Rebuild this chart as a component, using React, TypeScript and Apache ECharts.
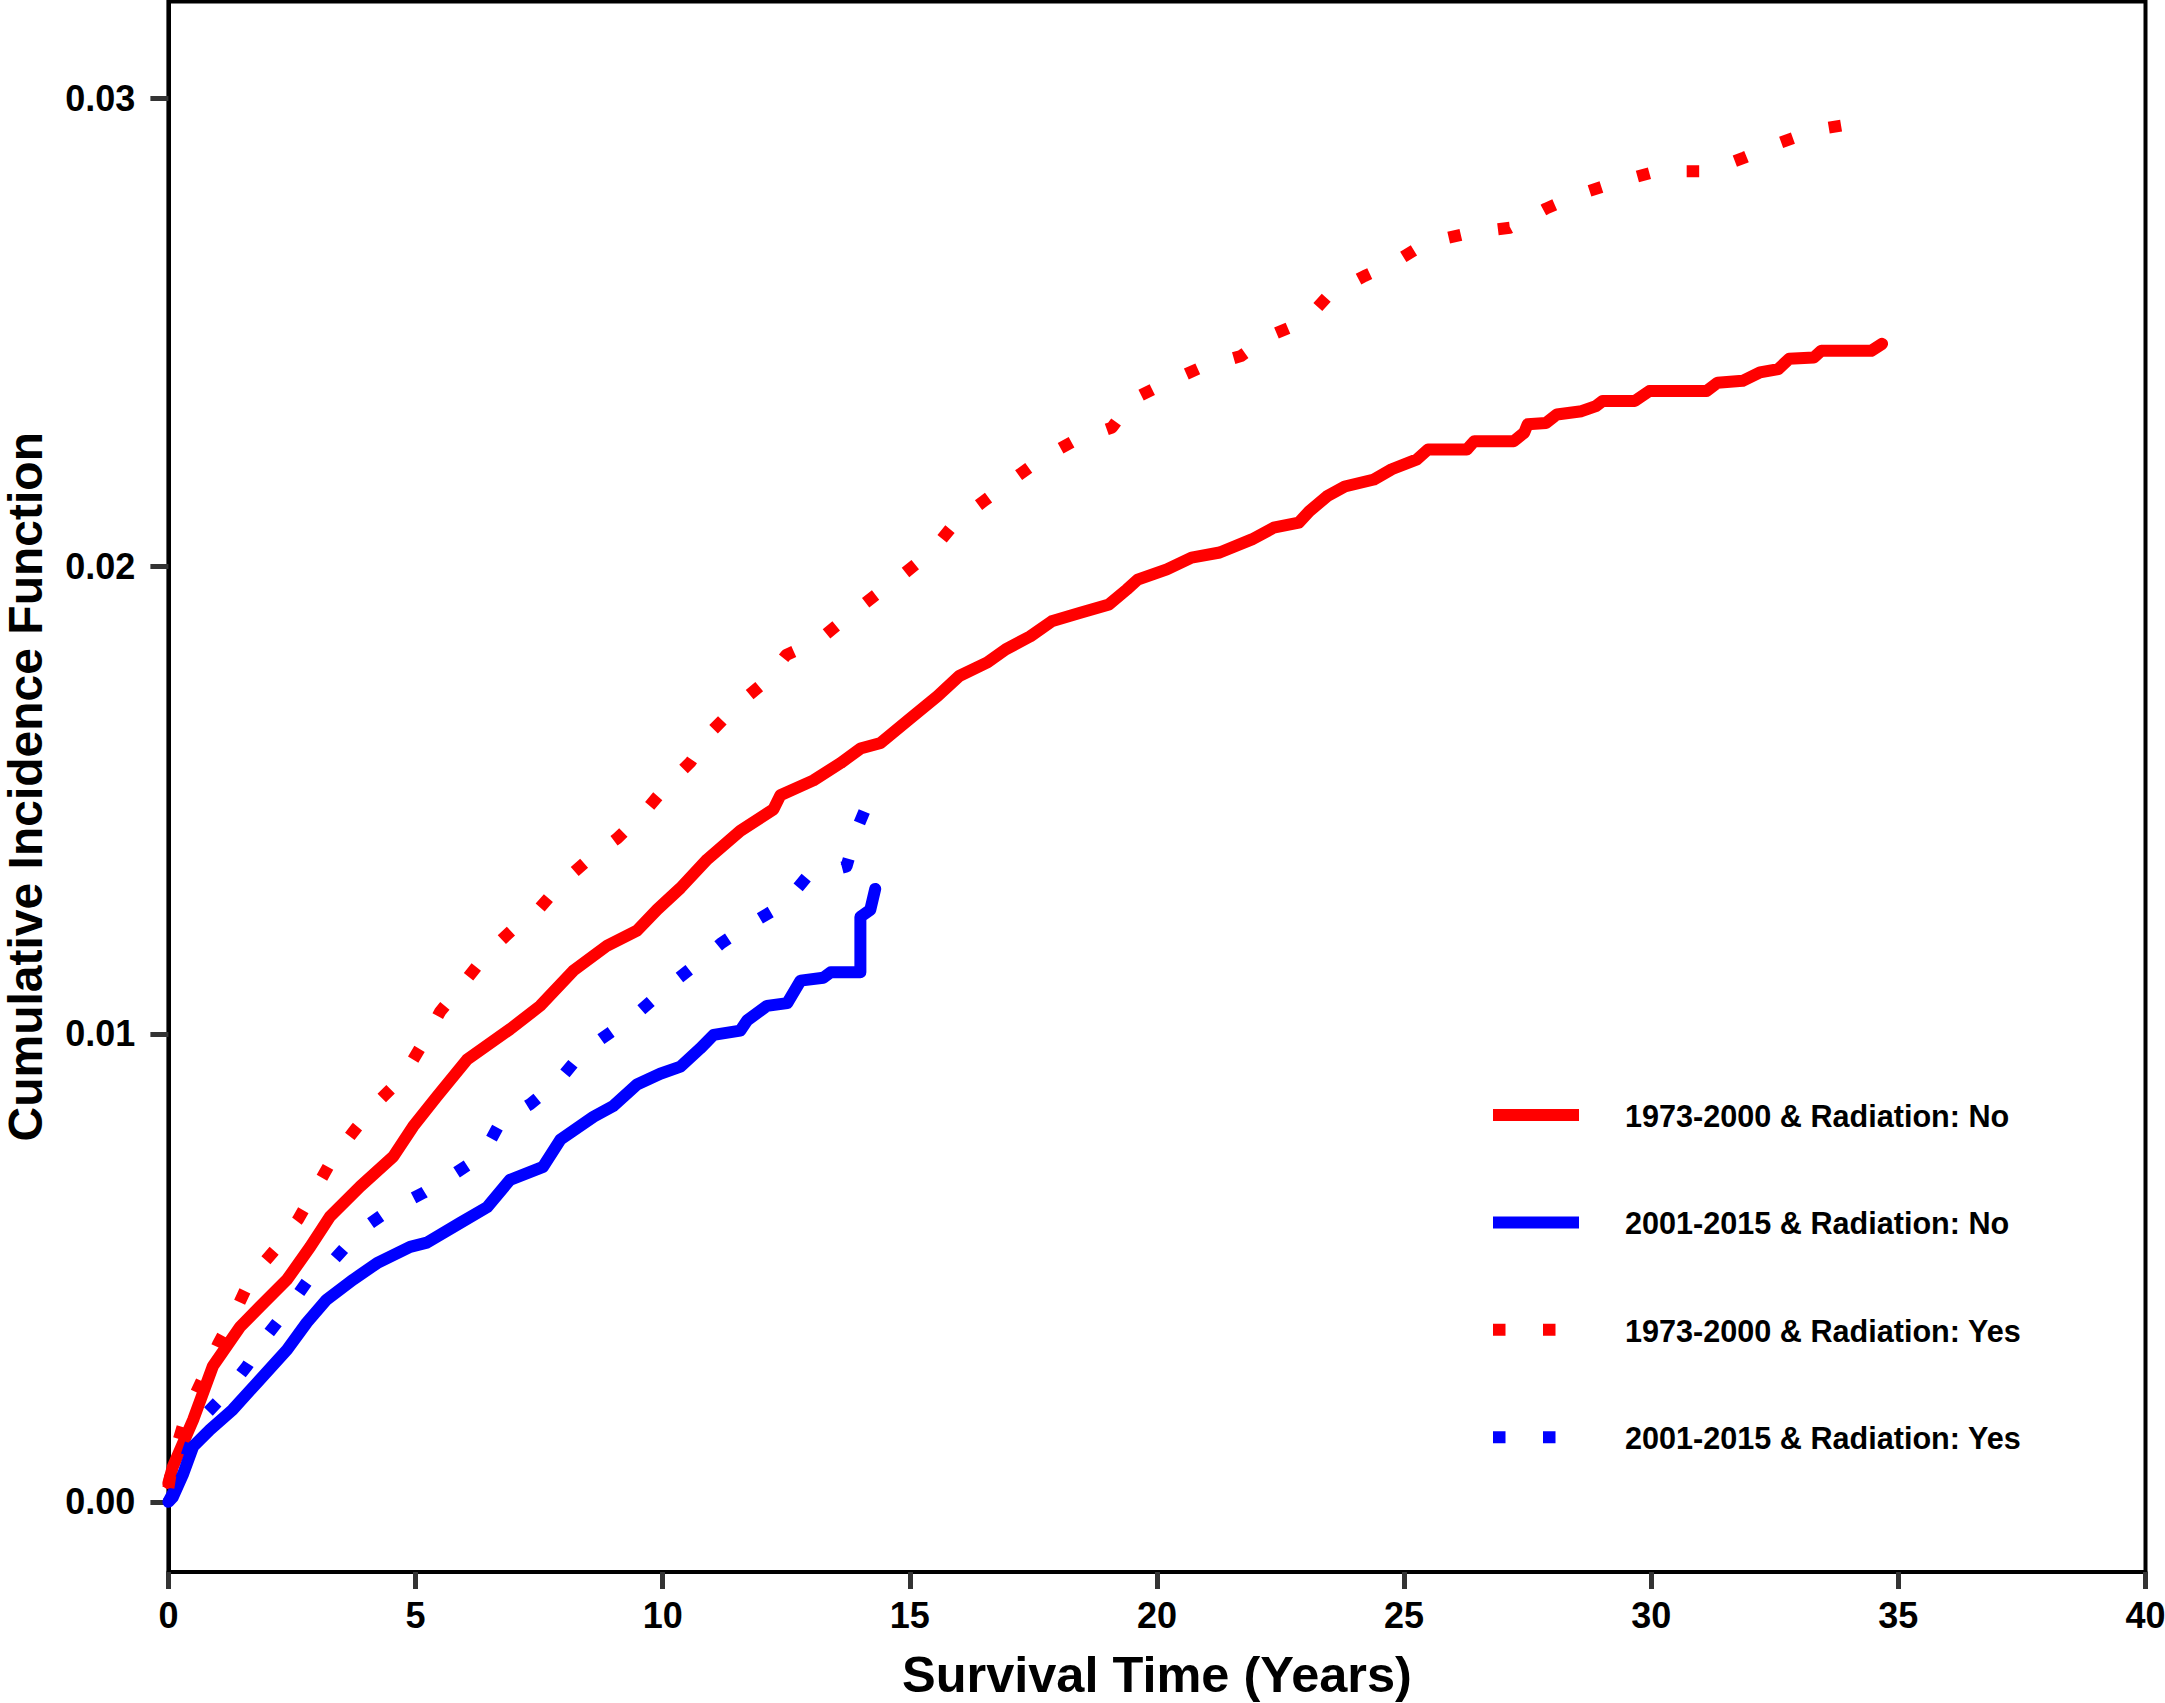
import React, { useEffect, useRef } from "react";
import * as echarts from "echarts";

// Cumulative incidence: [survival time (years), CIF]
const red7300No: [number, number][] = [
  [0, 0.0004], [0.09, 0.00075], [0.5, 0.00175], [0.9, 0.0029], [1.45, 0.00374], [1.85, 0.00417],
  [2.4, 0.00475], [2.87, 0.00545], [3.27, 0.0061], [3.88, 0.00674], [4.55, 0.00738], [4.95, 0.00802],
  [5.43, 0.00866], [6.04, 0.00945], [6.91, 0.0101], [7.52, 0.0106], [8.19, 0.01135], [8.88, 0.01189],
  [9.48, 0.01221], [9.89, 0.01266], [10.36, 0.01312], [10.9, 0.01373], [11.57, 0.01434], [12.24, 0.0148],
  [12.38, 0.0151], [13.05, 0.01542], [13.6, 0.01579], [14.0, 0.0161], [14.41, 0.01622], [14.98, 0.01672],
  [15.56, 0.01722], [16.0, 0.01765], [16.57, 0.01794], [16.94, 0.01822], [17.44, 0.0185], [17.87, 0.01882],
  [18.45, 0.019], [19.03, 0.01918], [19.39, 0.0195], [19.61, 0.01971], [20.2, 0.01993], [20.7, 0.02018],
  [21.27, 0.02029], [21.92, 0.02057], [22.36, 0.02082], [22.87, 0.02093], [23.08, 0.02117], [23.44, 0.02149],
  [23.8, 0.0217], [24.39, 0.02185], [24.75, 0.02207], [25.26, 0.02228], [25.48, 0.02249], [26.27, 0.02249],
  [26.42, 0.02267], [27.22, 0.02267], [27.43, 0.02285], [27.5, 0.02303], [27.87, 0.02306], [28.09, 0.02324],
  [28.59, 0.02331], [28.88, 0.02342], [29.02, 0.02353], [29.67, 0.02353], [29.96, 0.02374], [31.12, 0.02374],
  [31.34, 0.02392], [31.85, 0.02396], [32.2, 0.02414], [32.57, 0.02421], [32.79, 0.02443], [33.29, 0.02446],
  [33.44, 0.0246], [34.45, 0.0246], [34.67, 0.02475],
];

const blue0115No: [number, number][] = [
  [0, 0], [0.09, 0.0001], [0.3, 0.0006], [0.5, 0.00118], [0.84, 0.00154], [1.3, 0.00197], [1.79, 0.00254],
  [2.4, 0.00325], [2.8, 0.00383], [3.2, 0.00432], [3.74, 0.00475], [4.22, 0.0051], [4.89, 0.00545],
  [5.23, 0.00554], [5.9, 0.00596], [6.45, 0.0063], [6.91, 0.00688], [7.58, 0.00716], [7.93, 0.00774],
  [8.6, 0.00823], [9.0, 0.00846], [9.48, 0.00892], [9.95, 0.00915], [10.36, 0.0093], [10.76, 0.00969],
  [11.03, 0.00998], [11.57, 0.01007], [11.71, 0.01029], [12.11, 0.0106], [12.52, 0.01066], [12.79, 0.01114],
  [13.25, 0.0112], [13.4, 0.01132], [14.0, 0.01132], [14.0, 0.0125], [14.2, 0.01265], [14.3, 0.0131],
];

const red7300Yes: [number, number][] = [
  [0, 0.0003], [0.09, 0.0009], [0.37, 0.0019], [0.7, 0.00265], [1.0, 0.00336], [1.35, 0.00406], [1.68, 0.00481],
  [2.16, 0.00539], [2.62, 0.00603], [2.97, 0.00667], [3.33, 0.00735], [3.81, 0.008], [4.24, 0.00855],
  [4.75, 0.00909], [5.13, 0.00977], [5.5, 0.01048], [5.98, 0.0111], [6.43, 0.0117], [6.93, 0.0122],
  [7.52, 0.0127], [7.96, 0.01323], [8.5, 0.01373], [9.08, 0.01418], [9.61, 0.01472], [10.07, 0.01529],
  [10.57, 0.01582], [11.0, 0.01648], [11.5, 0.01702], [12.04, 0.0175], [12.5, 0.0181], [13.15, 0.01841],
  [13.74, 0.01892], [14.32, 0.01939], [14.91, 0.01986], [15.45, 0.02032], [15.92, 0.02093], [16.5, 0.02139],
  [17.08, 0.02185], [17.67, 0.0223], [18.31, 0.02267], [19.09, 0.02296], [19.5, 0.02356], [20.19, 0.02392],
  [20.88, 0.02424], [21.7, 0.02449], [22.28, 0.02492], [23.0, 0.02524], [23.48, 0.0258], [24.2, 0.0262],
  [24.82, 0.0265], [25.45, 0.02691], [26.31, 0.02712], [27.14, 0.02723], [27.87, 0.02764], [28.52, 0.02794],
  [29.28, 0.0282], [30.11, 0.02844], [31.16, 0.02844], [31.88, 0.02873], [32.61, 0.02905], [33.35, 0.02933],
  [34.22, 0.02948],
];

const blue0115Yes: [number, number][] = [
  [0, 0], [0.13, 0.00026], [0.6, 0.0017], [1.1, 0.00225], [1.59, 0.0029], [1.95, 0.0035], [2.4, 0.0041],
  [2.8, 0.0047], [3.37, 0.0052], [3.88, 0.0058], [4.42, 0.0062], [5.15, 0.0066], [5.77, 0.007], [6.35, 0.0074],
  [6.71, 0.0081], [7.32, 0.0085], [7.89, 0.00899], [8.37, 0.0096], [8.94, 0.01003], [9.53, 0.01048],
  [10.07, 0.01098], [10.64, 0.01146], [11.2, 0.01195], [11.82, 0.01238], [12.45, 0.01277], [12.92, 0.01336],
  [13.72, 0.01358], [13.95, 0.01443], [14.25, 0.01519],
];

const seriesNames = [
  "1973-2000 & Radiation: No",
  "2001-2015 & Radiation: No",
  "1973-2000 & Radiation: Yes",
  "2001-2015 & Radiation: Yes",
];
const seriesData = [red7300No, blue0115No, red7300Yes, blue0115Yes];
const seriesColors = ["#FF0000", "#0000FF", "#FF0000", "#0000FF"];
const seriesDotted = [false, false, true, true];

const xTicks = [0, 5, 10, 15, 20, 25, 30, 35, 40];
const yTicks = [0, 0.01, 0.02, 0.03];

const FONT = '"Liberation Sans", Arial, Helvetica, sans-serif';
const DASH = [12.5, 37.5];

export default function App() {
  const ref = useRef<HTMLDivElement>(null);
  useEffect(() => {
    document.body.style.margin = "0";
    if (!ref.current) return;
    const chart = echarts.init(ref.current, undefined, { renderer: "svg" });

    const gridLeft = 168.4;
    const gridRight = 2145.5;
    const gridTop = 1.5;
    const gridBottom = 1572;

    const legendGraphics: any[] = [];
    seriesNames.forEach((name, i) => {
      const ly = 1115 + i * 107.4;
      legendGraphics.push({
        type: "line",
        shape: { x1: 1493, y1: ly, x2: 1579, y2: ly },
        style: {
          stroke: seriesColors[i],
          lineWidth: 12,
          lineCap: "butt",
          lineDash: seriesDotted[i] ? DASH : null,
        },
        silent: true,
      });
      legendGraphics.push({
        type: "text",
        x: 1625,
        y: ly + 1,
        style: {
          text: name,
          fontFamily: FONT,
          fontWeight: "bold",
          fontSize: 30.6,
          fill: "#000",
          verticalAlign: "middle",
          align: "left",
        },
        silent: true,
      });
    });

    chart.setOption({
      animation: false,
      backgroundColor: "#fff",
      grid: {
        left: gridLeft,
        top: gridTop,
        width: gridRight - gridLeft,
        height: gridBottom - gridTop,
        show: true,
        borderColor: "#000",
        borderWidth: 4,
        containLabel: false,
        outerBoundsMode: "none",
      },
      xAxis: {
        type: "value",
        min: 0,
        max: 40,
        interval: 5,
        name: "Survival Time (Years)",
        nameLocation: "middle",
        nameGap: 77,
        nameTextStyle: { fontFamily: FONT, fontWeight: "bold", fontSize: 50.5, color: "#000" },
        axisLine: { show: true, onZero: false, lineStyle: { color: "#000", width: 4 } },
        axisTick: { show: true, inside: false, length: 17, lineStyle: { color: "#333", width: 5 }, customValues: xTicks },
        axisLabel: {
          show: true,
          margin: 25,
          fontFamily: FONT,
          fontWeight: "bold",
          fontSize: 36,
          color: "#000",
          customValues: xTicks,
          formatter: (v: number) => String(v),
        },
        splitLine: { show: false },
      },
      yAxis: {
        type: "value",
        min: -0.0015,
        max: 0.032067,
        name: "Cumulative Incidence Function",
        nameLocation: "middle",
        nameGap: 123,
        nameTextStyle: { fontFamily: FONT, fontWeight: "bold", fontSize: 48, lineHeight: 40, color: "#000" },
        axisLine: { show: true, onZero: false, lineStyle: { color: "#000", width: 4 } },
        axisTick: { show: true, inside: false, length: 18, lineStyle: { color: "#333", width: 5 }, customValues: yTicks },
        axisLabel: {
          show: true,
          margin: 33,
          fontFamily: FONT,
          fontWeight: "bold",
          fontSize: 36,
          color: "#000",
          customValues: yTicks,
          formatter: (v: number) => v.toFixed(2),
        },
        splitLine: { show: false },
      },
      series: seriesNames.map((name, i) => ({
        name,
        type: "line",
        data: seriesData[i],
        symbol: "none",
        showSymbol: false,
        clip: true,
        lineStyle: {
          color: seriesColors[i],
          width: 12,
          type: seriesDotted[i] ? DASH : "solid",
          cap: seriesDotted[i] ? "butt" : "round",
          join: "round",
        },
        z: 2 + i,
      })),
      graphic: legendGraphics,
    });

    return () => chart.dispose();
  }, []);

  return <div ref={ref} style={{ width: 2165, height: 1703 }} />;
}
